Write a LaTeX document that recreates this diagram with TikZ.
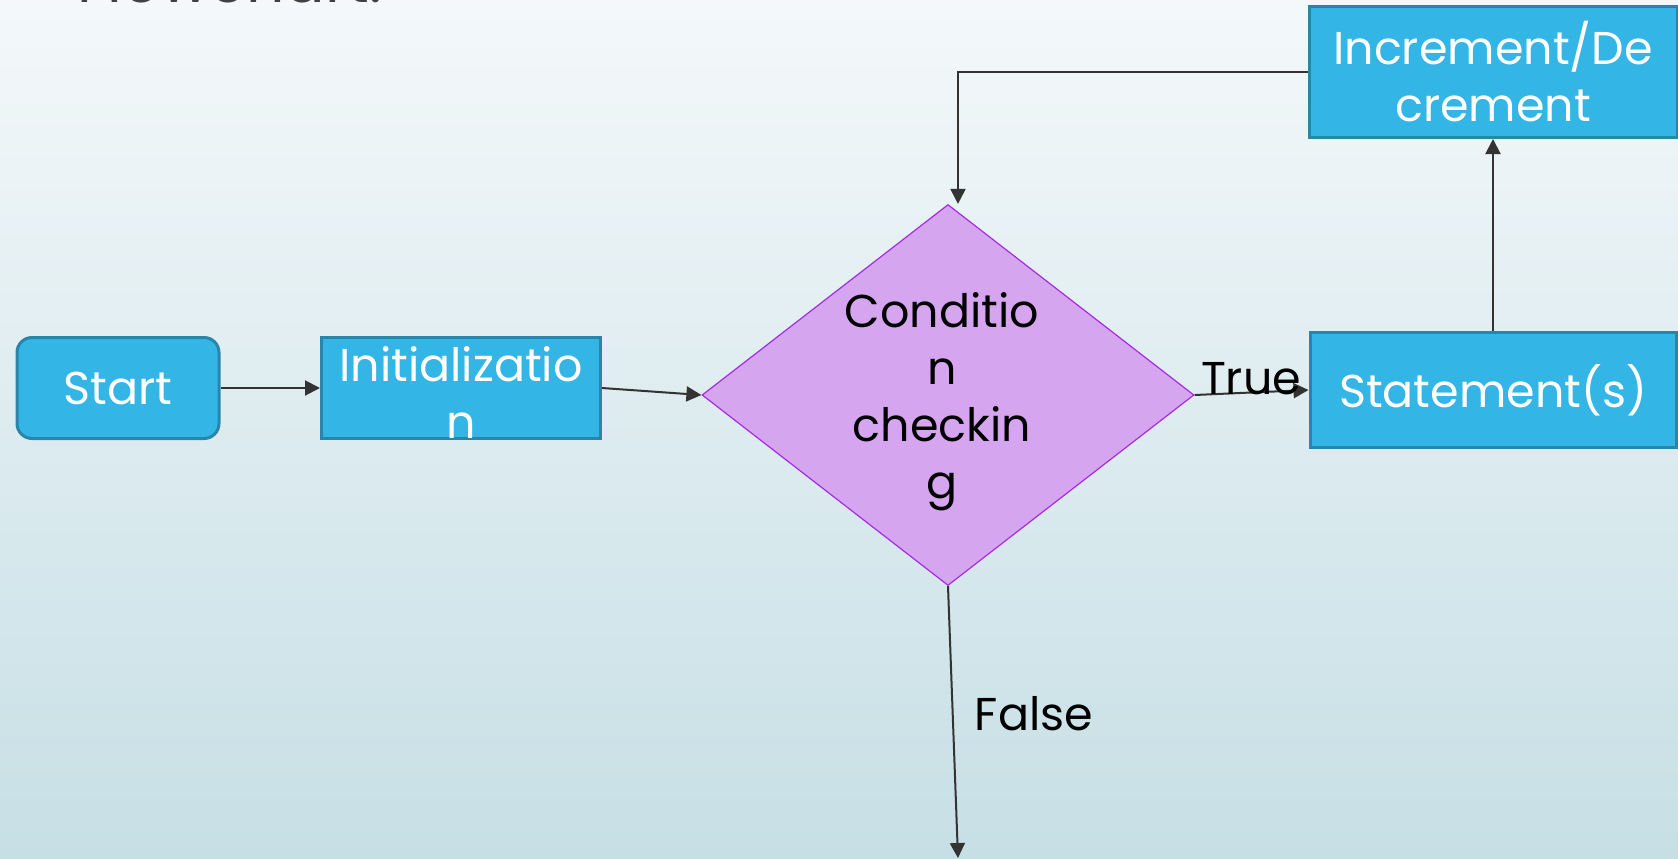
\documentclass[tikz,border=0pt]{standalone}
\usepackage{fontspec}
\setmainfont{Poppins}
\usetikzlibrary{shapes.geometric,arrows.meta}
\definecolor{boxfill}{HTML}{33B5E5}
\definecolor{boxline}{HTML}{2A86A8}
\definecolor{diafill}{HTML}{D6A5F0}
\definecolor{dialine}{HTML}{A52BE0}
\definecolor{bgtop}{HTML}{F4F8FA}
\definecolor{bgbot}{HTML}{C6DFE5}
\definecolor{arrowc}{HTML}{333333}
\tikzset{
  bluebox/.style={draw=boxline, line width=1.5pt, fill=boxfill, text=white, align=center,
    font=\fontsize{23}{28.5}\selectfont, inner sep=0pt},
  conn/.style={draw=arrowc, line width=1pt, -{Triangle[length=7.5pt,width=7.5pt]}},
  lbl/.style={text=black, font=\fontsize{23}{28.5}\selectfont, inner sep=0pt}
}
\begin{document}
\begin{tikzpicture}[x=0.5pt,y=-0.5pt]
\useasboundingbox (0,0) rectangle (1678,858);
\clip (0,0) rectangle (1678,858);
\shade[top color=bgtop, bottom color=bgbot] (0,0) rectangle (1678,858);
\node[anchor=base west, text=black!75, font=\fontsize{30}{36}\selectfont, inner sep=0pt] (title) at (77,2) {Flowchart:};
\node[bluebox, rounded corners=7.5pt, minimum width=101pt, minimum height=50.5pt] (start) at (118,388) {Start};
\node[bluebox, minimum width=139.5pt, minimum height=50.5pt] (init) at (461,388) {};
\node[lbl, text=white, align=center] (inittext) at (461,392) {Initializatio\\n};
\node[draw=dialine, line width=0.6pt, fill=diafill, shape=diamond, inner sep=0pt, minimum width=246pt, minimum height=190.5pt] (cond) at (948,395) {};
\node[lbl, align=center] (condtext) at (942,402) {Conditio\\n\\checkin\\g};
\node[bluebox, minimum width=183pt, minimum height=57.5pt] (stmt) at (1493,390) {Statement(s)};
\node[bluebox, minimum width=184pt, minimum height=65.5pt] (inc) at (1493,72) {Increment/De\\crement};
\coordinate (falseend) at (958,858);
\draw[conn] (start.east) -- (init.west);
\draw[conn] (init.east) -- (cond.west);
\draw[conn] (cond.east) -- (stmt.west);
\draw[conn] (stmt.north) -- (inc.south);
\draw[conn] (inc.west) -| ([xshift=5pt]cond.north);
\draw[conn] (cond.south) -- (falseend);
\node[lbl] (truelbl) at (1251,379) {True};
\node[lbl] (falselbl) at (1034,714) {False};
\end{tikzpicture}
\end{document}
